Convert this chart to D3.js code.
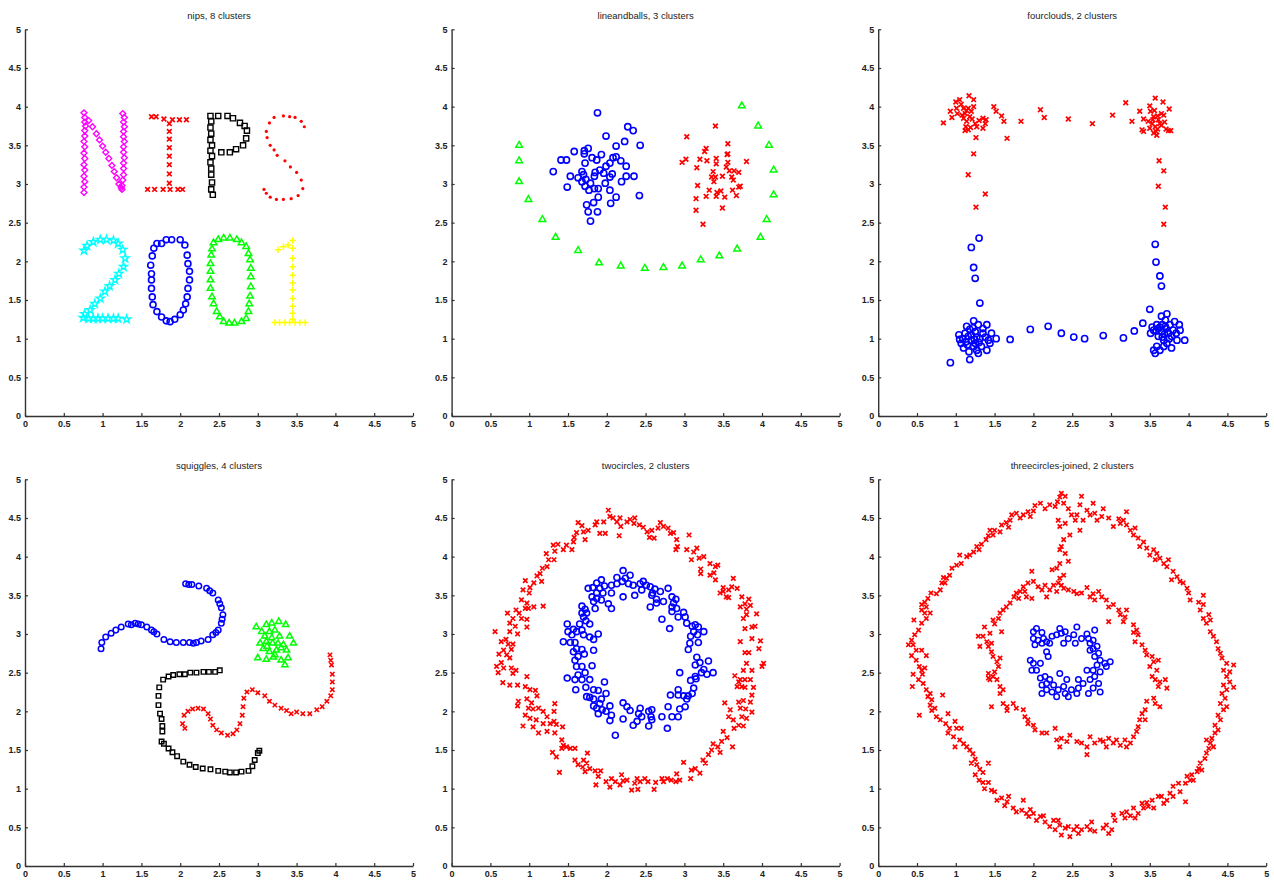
<!DOCTYPE html>
<html>
<head>
<meta charset="utf-8">
<script src="https://cdn.jsdelivr.net/npm/d3@7"></script>
<style>
  body { margin: 0; background: #fff; }
  svg { display: block; }
  text { font-family: "Liberation Sans", Arial, sans-serif; }
</style>
</head>
<body>
<svg id="chart" width="1274" height="880"></svg>
<script>
// ---- tick labels (same on every panel) ----
const tickValues = [0, 0.5, 1, 1.5, 2, 2.5, 3, 3.5, 4, 4.5, 5];
const tickLabels = ["0", "0.5", "1", "1.5", "2", "2.5", "3", "3.5", "4", "4.5", "5"];

const titles = ["nips, 8 clusters", "lineandballs, 3 clusters", "fourclouds, 2 clusters",
                "squiggles, 4 clusters", "twocircles, 2 clusters", "threecircles-joined, 2 clusters"];

// ---- nips ----
const nipsN = [[0.76,3.92],[0.77,3.86],[0.77,3.8],[0.78,3.75],[0.77,3.69],[0.77,3.62],[0.76,3.55],[0.77,3.48],[0.76,3.4],[0.77,3.33],[0.76,3.25],[0.77,3.18],[0.76,3.1],[0.77,3.03],[0.76,2.96],[0.76,2.89],
  [0.82,3.82],[0.87,3.74],[0.92,3.65],[0.96,3.57],[1.0,3.49],[1.04,3.41],[1.08,3.33],[1.12,3.24],[1.15,3.16],[1.18,3.08],[1.21,3.0],[1.24,2.95],
  [1.26,3.91],[1.28,3.86],[1.27,3.8],[1.28,3.74],[1.27,3.68],[1.27,3.61],[1.28,3.55],[1.27,3.48],[1.27,3.41],[1.28,3.34],[1.27,3.27],[1.27,3.2],[1.27,3.12],[1.26,3.05],[1.25,2.98],[1.25,2.93]];
const nipsI = [[1.63,3.87],[1.69,3.87],[1.79,3.84],[1.9,3.83],[1.99,3.83],[2.08,3.83],
  [1.86,3.78],[1.86,3.68],[1.86,3.58],[1.86,3.47],[1.86,3.36],[1.86,3.25],[1.86,3.13],[1.86,3.01],
  [1.58,2.93],[1.67,2.93],[1.78,2.93],[1.87,2.93],[1.97,2.93],[2.03,2.93]];
const nipsP = [[2.39,3.88],[2.4,3.81],[2.39,3.73],[2.4,3.65],[2.39,3.57],[2.41,3.5],[2.39,3.43],[2.41,3.36],[2.39,3.28],[2.4,3.2],[2.4,3.12],[2.41,3.02],[2.4,2.93],[2.42,2.86],
  [2.49,3.88],[2.61,3.88],[2.68,3.85],[2.77,3.79],[2.83,3.75],[2.86,3.69],[2.85,3.59],[2.81,3.5],[2.72,3.45],[2.64,3.41],[2.53,3.41]];
const nipsS = [[3.21,3.86],[3.33,3.88],[3.41,3.87],[3.48,3.86],[3.56,3.81],[3.6,3.74],[3.15,3.79],[3.11,3.68],[3.12,3.6],[3.16,3.5],[3.21,3.44],[3.25,3.37],
  [3.35,3.3],[3.42,3.22],[3.5,3.15],[3.56,3.05],[3.58,2.94],[3.52,2.85],[3.43,2.81],[3.33,2.8],[3.24,2.8],[3.16,2.83],[3.11,2.88],[3.08,2.93]];
const nips2 = [[0.76,2.14],[0.8,2.2],[0.88,2.25],[0.97,2.28],[1.05,2.28],[1.14,2.27],[1.2,2.23],[1.26,2.15],[1.29,2.04],[1.27,1.93],[1.21,1.84],[1.16,1.76],[1.09,1.68],[1.03,1.61],[0.97,1.52],[0.9,1.45],[0.84,1.37],[0.77,1.32],
  [0.75,1.27],[0.82,1.26],[0.88,1.26],[0.94,1.26],[1.0,1.26],[1.07,1.26],[1.14,1.26],[1.2,1.26],[1.31,1.25]];
const nips0a = [[1.76,2.23],[1.82,2.28],[1.89,2.28],[2.0,2.28],[2.06,2.21],[2.09,2.08],[2.1,1.97],[2.12,1.87],[2.12,1.76],[2.1,1.65],[2.09,1.54],[2.07,1.45],[2.04,1.37],[2.0,1.31],
  [1.93,1.25],[1.87,1.22],[1.82,1.23],[1.76,1.28],[1.7,1.35],[1.65,1.44],[1.64,1.54],[1.63,1.65],[1.63,1.76],[1.63,1.84],[1.62,1.95],[1.64,2.07],[1.66,2.17],[1.7,2.23]];
const nips0b = [[2.43,2.24],[2.49,2.28],[2.56,2.3],[2.64,2.3],[2.73,2.28],[2.79,2.24],[2.85,2.19],[2.88,2.1],[2.9,2.02],[2.91,1.91],[2.91,1.8],[2.91,1.67],[2.9,1.55],[2.89,1.45],[2.88,1.35],
  [2.85,1.26],[2.79,1.22],[2.7,1.2],[2.63,1.2],[2.56,1.22],[2.51,1.28],[2.47,1.35],[2.43,1.45],[2.41,1.54],[2.39,1.65],[2.39,1.76],[2.39,1.87],[2.39,1.97],[2.4,2.08],[2.41,2.16]];
const nips1 = [[3.26,2.15],[3.33,2.19],[3.39,2.21],[3.45,2.27],[3.45,2.17],[3.45,2.04],[3.45,1.93],[3.45,1.82],[3.45,1.72],[3.45,1.63],[3.45,1.52],[3.45,1.42],[3.45,1.33],[3.45,1.25],
  [3.22,1.21],[3.28,1.21],[3.35,1.21],[3.41,1.21],[3.48,1.21],[3.54,1.21],[3.61,1.21]];

// ---- lineandballs ----
const labLine = [[0.87,3.5],[0.87,3.3],[0.87,3.03],[0.99,2.8],[1.17,2.54],[1.34,2.31],[1.63,2.14],[1.9,1.98],[2.18,1.94],[2.49,1.91],[2.73,1.92],[2.97,1.94],[3.21,2.02],[3.45,2.07],[3.68,2.16],[3.98,2.31],[4.06,2.54],[4.15,2.86],[4.15,3.18],[4.09,3.5],[3.95,3.75],[3.74,4.01]];
const labBallA = [[1.88,3.92],[2.27,3.74],[2.34,3.69],[1.99,3.62],[2.23,3.55],[2.43,3.5],[2.12,3.49],[1.76,3.46],[1.71,3.43],[1.58,3.42],[1.71,3.39],[1.93,3.38],[1.81,3.34],[2.08,3.34],[2.12,3.35],[1.41,3.31],[1.48,3.31],[1.87,3.31],[2.18,3.3],[1.72,3.27],[2.04,3.27],[1.99,3.23],[2.25,3.23],
  [1.31,3.16],[1.68,3.16],[1.91,3.18],[1.85,3.15],[1.96,3.14],[2.07,3.13],[1.53,3.1],[1.7,3.12],[2.35,3.1],[2.25,3.1],[1.63,3.08],[1.73,3.06],[1.84,3.1],[2.04,3.09],[1.68,3.03],[2.19,3.03],[1.98,3.01],[1.79,3.01],[1.72,2.97],[1.49,2.96],[1.84,2.94],[1.89,2.94],[1.77,2.92],[2.04,2.92],
  [2.42,2.85],[1.89,2.83],[2.12,2.83],[1.83,2.76],[2.05,2.75],[1.74,2.73],[1.76,2.64],[1.88,2.64],[1.79,2.52]];
const labBallB = [[3.03,3.61],[3.4,3.75],[3.56,3.52],[3.28,3.46],[3.26,3.42],[3.41,3.33],[3.55,3.38],[3.56,3.39],[3.02,3.32],[2.97,3.28],[3.2,3.32],[3.29,3.3],[3.41,3.26],[3.56,3.28],[3.8,3.29],[3.54,3.22],[3.16,3.21],[3.37,3.16],[3.58,3.17],[3.64,3.17],[3.7,3.15],
  [3.35,3.09],[3.4,3.09],[3.49,3.1],[3.61,3.09],[3.63,3.05],[3.38,3.03],[3.17,2.98],[3.72,2.97],[3.7,2.96],[3.32,2.92],[3.47,2.91],[3.62,2.92],[3.42,2.89],[3.28,2.84],[3.41,2.84],[3.67,2.85],[3.52,2.83],[3.15,2.81],[3.49,2.69],[3.15,2.66],[3.24,2.48]];

// ---- fourclouds ----
const fcTop = [[0.84,3.79],[0.93,3.94],[0.95,3.86],[1.0,4.06],[1.05,4.09],[1.01,3.98],[1.02,3.91],[1.1,3.98],[1.12,3.91],[1.17,4.14],[1.23,4.09],[1.23,4.0],[1.16,3.98],[1.2,3.94],[1.1,3.85],[1.18,3.87],[1.14,3.81],[1.13,3.74],[1.16,3.7],[1.12,3.69],[1.25,3.78],[1.27,3.74],[1.35,3.85],[1.39,3.83],[1.38,3.78],[1.35,3.72],
  [1.07,4.03],[1.14,3.95],[1.21,3.84],[1.08,3.89],[1.19,3.73],[1.3,3.82],
  [1.26,3.6],[1.23,3.39],[1.16,3.12],[1.38,2.87],[1.26,2.7],
  [1.49,4.0],[1.52,3.94],[1.59,3.88],[1.62,3.81],[1.66,3.59],[1.84,3.81],[2.09,3.96],[2.14,3.86],[2.45,3.84],[2.76,3.78],[3.02,3.89],[3.19,4.05],[3.27,3.81],
  [3.37,3.94],[3.42,3.84],[3.4,3.7],[3.42,3.68],[3.5,4.01],[3.57,4.11],[3.51,3.94],[3.55,3.87],[3.53,3.78],[3.5,3.72],[3.55,3.66],[3.6,3.71],[3.61,3.83],[3.65,3.91],[3.67,4.06],[3.68,3.89],[3.65,3.76],[3.71,3.71],[3.75,3.97],[3.74,3.69],[3.77,3.69],[3.57,3.74],[3.59,3.63],[3.54,3.83],
  [3.58,3.68],[3.63,3.78],[3.48,3.81],[3.6,3.88],[3.69,3.8],[3.56,3.95],
  [3.62,3.3],[3.68,3.17],[3.61,2.97],[3.7,2.7],[3.68,2.48]];
const fcBottom = [[1.3,2.3],[1.2,2.18],[1.23,1.92],[1.25,1.78],[1.31,1.46],
  [0.93,0.69],[1.18,0.73],[1.05,0.99],[1.07,0.94],[1.1,0.88],[1.14,1.16],[1.12,1.07],[1.16,1.03],[1.23,1.23],[1.18,1.12],[1.25,1.09],[1.2,0.98],[1.25,0.94],[1.17,0.83],[1.27,0.85],[1.29,1.18],[1.31,1.0],[1.33,0.9],[1.35,1.07],[1.4,1.18],[1.42,0.98],[1.4,0.85],[1.44,0.94],[1.46,1.07],[1.52,1.0],[1.04,1.05],[1.13,0.96],[1.23,0.9],[1.35,1.13],[1.29,0.81],
  [1.2,1.05],[1.27,1.02],[1.15,0.92],[1.3,0.95],[1.22,1.14],[1.38,1.02],[1.09,1.0],[1.24,0.99],
  [1.7,0.99],[1.96,1.12],[2.19,1.16],[2.36,1.07],[2.52,1.02],[2.66,1.0],[2.9,1.04],[3.16,1.01],[3.3,1.1],[3.41,1.2],
  [3.57,2.22],[3.58,1.99],[3.63,1.81],[3.65,1.68],[3.5,1.38],
  [3.55,0.85],[3.57,0.81],[3.59,0.9],[3.63,0.85],[3.68,0.9],[3.72,0.94],[3.78,1.03],[3.89,1.11],[3.95,0.98],[3.82,1.22],[3.72,1.32],[3.65,1.29],[3.53,1.15],[3.59,1.18],[3.66,1.18],[3.71,1.13],[3.74,1.07],[3.65,1.09],[3.55,1.11],[3.51,1.07],[3.84,1.07],[3.85,0.98],[3.78,0.88],[3.68,0.98],[3.61,1.03],[3.76,1.18],[3.88,1.18],[3.61,1.13],[3.7,1.24],[3.8,1.11],
  [3.69,1.06],[3.63,1.15],[3.75,1.0],[3.7,1.16],[3.58,1.1],[3.66,1.02]];

// ---- squiggles ----
const sqBlue = [[0.98,2.81],[0.99,2.89],[1.04,2.96],[1.11,3.01],[1.17,3.05],[1.24,3.09],[1.33,3.13],[1.42,3.14],[1.5,3.12],[1.57,3.09],[1.63,3.05],[1.7,3.0],[1.79,2.93],[1.87,2.9],[1.95,2.89],[2.04,2.89],[2.12,2.89],[2.21,2.89],[2.27,2.91],[2.36,2.93],
  [2.42,2.99],[2.49,3.05],[2.53,3.14],[2.55,3.25],[2.53,3.34],[2.49,3.44],[2.42,3.53],[2.34,3.59],[2.24,3.62],[2.15,3.64],[2.07,3.65],
  [1.37,3.12],[1.46,3.13],[1.66,3.03],[2.17,2.88],[2.46,3.02],[2.54,3.19],[2.51,3.39],[2.38,3.56],[2.11,3.64]];
const sqGreen = [[2.98,3.09],[3.05,3.03],[3.11,3.12],[3.18,3.14],[3.27,3.16],[3.36,3.12],[3.15,3.03],[3.22,3.05],[3.09,2.97],[3.28,2.97],[3.41,2.97],[3.46,2.88],[3.03,2.88],[3.11,2.9],[3.19,2.88],[3.33,2.86],[3.07,2.81],[3.24,2.79],[3.37,2.79],
  [3.0,2.69],[3.11,2.67],[3.22,2.73],[3.3,2.66],[3.39,2.69],[3.35,2.6],[3.15,2.77],[3.26,2.88],[3.18,2.95],[3.3,2.82],[3.12,2.84],[3.2,2.7]];
const sqBlack = [[2.51,2.53],[2.45,2.51],[2.37,2.51],[2.3,2.51],[2.21,2.5],[2.13,2.5],[2.06,2.48],[1.99,2.48],[1.91,2.47],[1.85,2.45],[1.78,2.41],[1.73,2.31],[1.72,2.2],[1.72,2.08],[1.74,1.97],[1.76,1.9],[1.77,1.81],[1.77,1.74],
  [1.76,1.61],[1.79,1.58],[1.85,1.52],[1.9,1.47],[1.96,1.42],[2.04,1.35],[2.12,1.31],[2.2,1.28],[2.29,1.26],[2.39,1.25],[2.49,1.23],[2.58,1.22],[2.64,1.21],[2.72,1.21],[2.79,1.22],[2.88,1.23],[2.93,1.29],[2.96,1.37],[3.0,1.46],[3.02,1.49]];
const sqRed = [[2.03,1.84],[2.06,1.78],[2.05,1.95],[2.1,2.0],[2.16,2.03],[2.23,2.04],[2.3,2.03],[2.36,1.97],[2.39,1.9],[2.42,1.82],[2.47,1.76],[2.53,1.72],[2.61,1.69],[2.68,1.71],[2.73,1.76],[2.77,1.84],[2.8,1.95],[2.81,2.06],[2.82,2.17],
  [2.86,2.25],[2.93,2.28],[3.0,2.24],[3.09,2.2],[3.15,2.13],[3.22,2.08],[3.3,2.04],[3.37,2.01],[3.43,1.97],[3.5,1.99],[3.58,1.97],[3.67,1.97],[3.76,2.02],[3.83,2.06],[3.89,2.13],[3.94,2.2],[3.96,2.28],[3.96,2.38],[3.96,2.48],[3.95,2.6],[3.94,2.66],[3.93,2.73]];

// ---- twocircles ----
const tcOuter = [[2.02,4.6],[2.04,4.52],[2.08,4.5],[1.96,4.45],[1.87,4.45],[1.85,4.41],[1.91,4.3],[1.98,4.3],[2.17,4.5],[2.13,4.45],[2.18,4.39],[2.16,4.27],[2.26,4.45],[2.3,4.48],[2.36,4.5],[2.35,4.43],[2.42,4.41],[2.47,4.38],[2.52,4.32],[2.55,4.25],[2.61,4.24],[2.58,4.34],
  [2.69,4.44],[2.66,4.37],[2.73,4.39],[2.79,4.37],[2.82,4.3],[2.86,4.31],[2.9,4.22],[2.91,4.13],[2.89,4.09],[3.06,4.28],[3.03,4.09],[3.12,4.06],[3.16,4.11],[3.19,3.98],[3.25,4.0],[3.09,3.96],[3.33,3.91],[3.4,3.87],[3.43,3.89],[3.4,3.7],[3.33,3.76],[3.21,3.78],[3.21,3.84],[3.38,3.79],
  [1.76,4.34],[1.7,4.32],[1.68,4.4],[1.63,4.44],[1.72,4.22],[1.61,4.31],[1.58,4.25],[1.57,4.19],[1.55,4.09],[1.48,4.15],[1.44,4.09],[1.37,4.16],[1.31,4.15],[1.33,4.07],[1.32,3.96],[1.25,3.96],[1.22,4.04],[1.17,3.85],[1.23,3.87],[1.14,3.78],[1.1,3.75],[1.16,3.68],[1.06,3.66],[1.01,3.6],
  [0.95,3.69],[1.0,3.53],[0.92,3.57],[0.9,3.44],[0.97,3.4],[0.99,3.33],[0.95,3.33],[1.06,3.35],[1.18,3.36],[0.87,3.27],[0.83,3.31],[0.9,3.2],[0.97,3.19],[0.79,3.2],[0.75,3.14],[0.82,3.1],[0.97,3.09],[0.85,3.0],[0.75,3.03],[0.72,3.27],
  [0.56,3.03],[0.64,2.9],[0.7,2.93],[0.73,2.87],[0.79,2.87],[0.77,2.8],[0.67,2.79],[0.71,2.73],[0.61,2.74],[0.75,2.69],[0.64,2.63],[0.58,2.58],[0.67,2.56],[0.77,2.56],[0.83,2.53],[0.6,2.5],[0.79,2.49],[0.66,2.37],[0.75,2.34],[0.85,2.34],[0.97,2.45],[0.95,2.32],[1.01,2.28],[1.08,2.27],[1.1,2.2],
  [0.97,2.16],[1.03,2.11],[0.86,2.13],[0.85,2.07],[0.99,2.04],[1.05,2.03],[1.12,2.04],[1.18,2.0],[0.95,1.95],[1.01,1.91],[1.09,1.89],[0.92,1.81],[1.05,1.8],[1.12,1.72],[1.23,1.93],[1.18,1.84],[1.27,1.84],[1.32,1.87],[1.33,2.1],[1.32,2.0],[1.35,1.83],[1.43,1.8],[1.23,1.74],[1.33,1.72],
  [1.42,1.63],[1.44,1.56],[1.48,1.54],[1.42,1.52],[1.53,1.52],[1.3,1.47],[1.35,1.41],[1.59,1.52],[1.59,1.37],[1.63,1.31],[1.7,1.37],[1.69,1.28],[1.74,1.33],[1.75,1.46],[1.39,1.21],[1.72,1.22],[1.78,1.26],[1.85,1.23],[1.92,1.23],[1.89,1.16],[1.86,1.05],[1.99,1.09],[2.04,1.02],[2.06,1.13],[2.11,1.09],
  [2.19,1.18],[2.21,1.1],[2.17,1.05],[2.26,1.11],[2.32,0.98],[2.36,1.07],[2.39,1.13],[2.43,1.09],[2.4,0.99],[2.49,1.13],[2.53,1.09],[2.61,0.99],[2.63,1.08],[2.71,1.13],[2.73,1.09],[2.78,1.13],[2.83,1.11],[2.9,1.19],[2.94,1.11],[2.89,1.09],[3.08,1.13],[3.09,1.24],[3.14,1.26],[2.99,1.34],[3.2,1.2],
  [3.24,1.37],[3.27,1.33],[3.31,1.44],[3.35,1.5],[3.37,1.58],[3.43,1.54],[3.46,1.47],[3.48,1.61],[3.5,1.74],[3.55,1.66],[3.62,1.54],[3.57,1.93],[3.59,2.02],[3.63,1.89],[3.64,1.78],[3.7,1.82],[3.76,1.81],[3.74,1.93],[3.8,1.91],[3.87,1.99],[3.79,2.03],[3.72,2.04],[3.7,2.12],[3.76,2.14],[3.85,2.12],[3.87,2.21],[3.52,2.11],
  [3.68,2.32],[3.74,2.32],[3.78,2.31],[3.89,2.31],[3.7,2.38],[3.72,2.41],[3.78,2.41],[3.85,2.41],[3.65,2.46],[3.76,2.53],[3.87,2.53],[3.8,2.62],[4.0,2.58],[4.02,2.62],[3.78,2.76],[3.83,2.76],[3.72,2.9],[3.96,2.81],[3.98,2.91],[3.87,2.94],[3.78,3.07],[3.87,3.09],[3.91,3.1],[3.93,3.26],[3.76,3.2],[3.8,3.25],[3.72,3.35],[3.8,3.32],[3.78,3.39],[3.85,3.37],[3.83,3.45],[3.74,3.48],
  [3.63,3.72],[3.61,3.61],[3.68,3.59],[3.57,3.57],[3.5,3.55],[3.46,3.53],[3.54,3.48],[3.5,3.6],[3.57,3.47]];
const tcInner = [[2.21,3.82],[2.3,3.76],[2.13,3.73],[2.24,3.72],[2.2,3.68],[1.93,3.7],[1.87,3.66],[1.76,3.59],[1.82,3.6],[1.91,3.59],[1.97,3.62],[2.06,3.63],[2.13,3.65],[2.28,3.65],[2.34,3.63],[2.43,3.65],[2.47,3.68],[2.51,3.63],[2.56,3.61],[2.62,3.58],[2.59,3.53],[2.69,3.55],[2.79,3.59],
  [2.45,3.57],[2.36,3.5],[2.21,3.48],[2.06,3.53],[1.95,3.53],[1.87,3.53],[1.81,3.48],[1.87,3.46],[1.93,3.44],[1.83,3.42],[2.02,3.39],[2.06,3.33],[1.85,3.33],[1.72,3.32],[1.68,3.36],[1.74,3.27],[1.7,3.22],[1.68,3.27],[1.78,3.13],[1.73,3.17],[1.65,3.13],
  [2.58,3.5],[2.64,3.45],[2.64,3.4],[2.56,3.35],[2.73,3.42],[2.84,3.48],[2.89,3.45],[2.86,3.4],[2.84,3.35],[2.9,3.33],[2.84,3.29],[2.99,3.28],[3.01,3.22],[2.92,3.22],[2.71,3.19],[2.81,3.07],[3.03,3.14],[3.1,3.1],[3.14,3.12],[3.18,3.09],[3.12,3.03],[3.17,2.99],[3.25,3.03],[3.08,2.97],
  [3.07,2.88],[3.18,2.89],[3.05,2.8],[3.16,2.7],[3.2,2.63],[3.31,2.65],[3.14,2.6],[3.25,2.54],[3.37,2.5],[3.29,2.48],[3.22,2.5],[3.14,2.45],[3.08,2.4],[3.15,2.42],[2.94,2.5],[3.12,2.3],[3.1,2.23],[3.05,2.2],[2.99,2.2],[2.92,2.28],[2.92,2.21],[3.03,2.16],[3.01,2.06],[2.94,2.03],
  [2.82,2.21],[2.79,2.06],[2.84,1.93],[2.92,1.93],[2.71,1.93],[2.78,1.78],[2.58,2.02],[2.54,2.0],[2.57,1.93],[2.54,1.81],[2.58,1.89],[2.43,2.04],[2.41,1.97],[2.45,1.93],[2.39,1.87],[2.34,1.82],[2.3,2.01],[2.26,2.06],[2.21,2.11],[2.21,1.9],[2.06,1.95],[2.04,1.88],[2.11,1.69],
  [1.99,2.0],[2.04,2.07],[1.91,2.1],[1.94,2.02],[1.87,2.04],[1.83,2.07],[1.89,1.97],[1.93,2.16],[1.83,2.16],[1.78,2.18],[1.99,2.23],[1.97,2.38],[1.89,2.27],[1.83,2.28],[1.74,2.19],[1.73,2.31],[1.78,2.41],[1.68,2.41],[1.59,2.41],[1.49,2.43],[1.6,2.28],[1.63,2.47],[1.72,2.5],
  [1.61,2.58],[1.68,2.58],[1.81,2.59],[1.59,2.66],[1.63,2.71],[1.71,2.74],[1.83,2.79],[1.57,2.77],[1.61,2.81],[1.68,2.8],[1.44,2.9],[1.53,2.89],[1.59,2.89],[1.7,2.99],[1.78,2.96],[1.89,3.0],[1.83,2.93],[1.5,3.03],[1.57,3.06],[1.61,3.03],[1.68,3.05],[1.49,3.13],[1.55,2.99]];

// ---- threecircles-joined ----
const t3Red = [[2.36,4.82],[2.34,4.77],[2.41,4.78],[2.31,4.71],[2.28,4.65],[2.39,4.69],[2.45,4.62],[2.21,4.67],[2.15,4.62],[2.09,4.69],[2.02,4.66],[2.0,4.59],[1.93,4.58],[1.96,4.52],[1.87,4.54],[1.83,4.5],[1.78,4.56],[1.72,4.54],[1.7,4.47],[1.65,4.44],[1.68,4.38],[1.59,4.41],[1.57,4.32],[1.5,4.34],[1.48,4.28],[1.44,4.34],[1.42,4.27],
  [1.39,4.22],[1.33,4.16],[1.27,4.13],[1.3,4.09],[1.23,4.06],[1.18,4.02],[1.14,4.0],[1.05,4.02],[1.07,3.91],[1.01,3.89],[0.95,3.85],[0.92,3.76],[0.88,3.72],[0.84,3.73],[0.82,3.66],[0.86,3.66],[0.8,3.57],[0.75,3.52],[0.68,3.53],[0.64,3.46],[0.6,3.41],[0.56,3.38],[0.62,3.35],[0.56,3.31],[0.6,3.27],[0.67,3.27],[0.62,3.2],
  [0.56,3.14],[0.46,3.18],[0.52,3.05],[0.47,2.99],[0.43,2.92],[0.39,2.86],[0.45,2.86],[0.49,2.79],[0.56,2.79],[0.43,2.72],[0.62,2.72],[0.49,2.66],[0.53,2.58],[0.56,2.53],[0.6,2.56],[0.45,2.48],[0.57,2.48],[0.52,2.41],[0.58,2.36],[0.44,2.32],[0.62,2.28],[0.67,2.23],[0.64,2.19],[0.69,2.15],[0.83,2.21],
  [0.67,2.08],[0.73,2.04],[0.69,2.01],[0.53,1.95],[0.75,1.93],[0.8,1.89],[0.9,1.97],[0.87,1.84],[0.92,1.78],[0.99,1.87],[1.01,1.78],[0.9,1.72],[0.97,1.67],[1.05,1.63],[1.1,1.58],[0.99,1.54],[1.14,1.54],[1.18,1.5],[1.07,1.78],[1.22,1.45],[1.25,1.38],[1.2,1.33],[1.27,1.31],[1.31,1.25],[1.25,1.18],[1.35,1.21],
  [1.3,1.11],[1.42,1.33],[1.35,1.08],[1.42,1.08],[1.46,0.98],[1.37,1.0],[1.5,0.96],[1.53,0.85],[1.59,0.88],[1.66,0.83],[1.63,0.78],[1.68,0.9],[1.74,0.75],[1.78,0.7],[1.87,0.85],[1.85,0.72],[1.91,0.68],[1.96,0.73],[1.94,0.64],[2.0,0.68],[2.04,0.59],[2.09,0.64],[2.13,0.65],[2.15,0.57],
  [2.21,0.51],[2.26,0.59],[2.28,0.47],[2.32,0.59],[2.34,0.53],[2.36,0.4],[2.41,0.49],[2.45,0.51],[2.47,0.38],[2.52,0.47],[2.56,0.51],[2.58,0.42],[2.62,0.47],[2.69,0.51],[2.73,0.47],[2.75,0.57],[2.79,0.45],[2.9,0.49],[2.94,0.53],[2.97,0.42],[3.01,0.47],[3.05,0.59],[3.03,0.66],
  [3.14,0.68],[3.18,0.62],[3.2,0.7],[3.25,0.65],[3.29,0.75],[3.31,0.62],[3.35,0.68],[3.4,0.81],[3.42,0.75],[3.46,0.82],[3.48,0.77],[3.55,0.75],[3.53,0.85],[3.61,0.9],[3.65,0.9],[3.68,0.81],[3.72,0.85],[3.76,0.94],[3.8,0.9],[3.8,1.03],[3.87,1.07],[3.89,0.96],[3.96,0.83],[3.96,1.07],[3.98,1.16],
  [4.02,1.11],[4.04,1.18],[4.06,1.11],[4.11,1.22],[4.13,1.26],[4.15,1.33],[4.17,1.24],[4.21,1.39],[4.23,1.46],[4.26,1.52],[4.28,1.59],[4.32,1.54],[4.23,1.63],[4.3,1.65],[4.34,1.72],[4.38,1.76],[4.34,1.82],[4.41,1.89],[4.38,1.95],[4.45,2.02],[4.49,2.06],[4.41,2.1],[4.47,2.17],[4.43,2.23],[4.49,2.28],
  [4.45,2.34],[4.58,2.31],[4.53,2.38],[4.49,2.45],[4.53,2.51],[4.45,2.53],[4.58,2.6],[4.49,2.62],[4.43,2.69],[4.41,2.75],[4.38,2.81],[4.36,2.9],[4.32,2.97],[4.28,3.03],[4.23,3.14],[4.28,3.18],[4.19,3.2],[4.26,3.25],[4.15,3.31],[4.19,3.38],[4.13,3.41],[4.19,3.5],[4.02,3.44],
  [4.0,3.53],[3.98,3.59],[3.93,3.66],[3.89,3.68],[3.85,3.74],[3.8,3.81],[3.78,3.7],[3.72,3.87],[3.74,3.96],[3.68,3.91],[3.63,3.98],[3.59,4.04],[3.57,3.96],[3.55,4.09],[3.5,4.02],[3.46,4.11],[3.42,4.19],[3.37,4.13],[3.35,4.24],[3.29,4.28],[3.31,4.37],[3.25,4.34],[3.2,4.41],[3.2,4.58],
  [3.16,4.47],[3.12,4.43],[3.1,4.49],[3.03,4.39],[2.97,4.5],[2.9,4.62],[2.88,4.52],[2.82,4.47],[2.77,4.69],[2.79,4.56],[2.73,4.54],[2.69,4.6],[2.64,4.47],[2.62,4.78],[2.6,4.67],[2.56,4.54],[2.54,4.47],[2.6,4.34],[2.49,4.54],
  [2.32,4.47],[2.34,4.39],[2.41,4.43],[2.47,4.28],[2.39,4.22],[2.36,4.13],[2.34,4.09],[2.41,4.04],[2.45,3.94],[2.34,3.91],[2.3,3.85],[2.24,3.83],[2.39,3.76],[2.34,3.72],[2.32,3.66],[2.36,3.63],
  [1.98,3.81],[2.0,3.68],[1.93,3.66],[1.87,3.61],[1.89,3.55],[1.83,3.55],[1.78,3.53],[1.75,3.48],[1.81,3.46],[1.91,3.48],[1.98,3.46],[2.06,3.61],[2.11,3.57],[2.15,3.63],[2.17,3.48],[2.21,3.57],[2.26,3.63],[2.3,3.55],[2.39,3.59],[2.45,3.57],[2.52,3.55],[2.56,3.52],[2.62,3.53],[2.69,3.6],
  [2.73,3.48],[2.77,3.52],[2.84,3.55],[2.79,3.44],[2.88,3.48],[2.94,3.44],[2.97,3.35],[3.03,3.38],[3.1,3.31],[3.12,3.25],[3.18,3.22],[3.16,3.16],[2.97,3.16],[3.2,3.31],[3.29,3.12],[3.33,3.05],[3.29,3.02],[3.35,2.99],[3.31,2.9],[3.4,2.86],[3.44,2.79],[3.46,2.73],[3.53,2.71],[3.55,2.64],
  [3.61,2.66],[3.5,2.58],[3.59,2.53],[3.53,2.45],[3.57,2.41],[3.63,2.38],[3.7,2.41],[3.72,2.3],[3.61,2.32],[3.55,2.17],[3.57,2.1],[3.63,2.06],[3.46,2.13],[3.44,2.02],[3.4,1.97],[3.37,1.89],[3.44,1.89],[3.35,1.8],[3.33,1.74],[3.29,1.67],[3.25,1.59],[3.18,1.63],[3.2,1.54],[3.12,1.56],
  [3.07,1.63],[3.03,1.59],[2.97,1.65],[2.94,1.54],[2.9,1.61],[2.86,1.63],[2.79,1.59],[2.73,1.67],[2.69,1.54],[2.69,1.44],[2.62,1.59],[2.56,1.61],[2.47,1.69],[2.43,1.61],[2.36,1.65],[2.34,1.54],[2.3,1.63],[2.28,1.78],[2.17,1.72],[2.11,1.72],[2.02,1.76],[2.0,1.82],[1.93,1.84],[1.89,1.93],
  [1.93,1.89],[1.87,2.02],[1.78,2.04],[1.74,2.1],[1.66,2.06],[1.61,2.1],[1.66,2.01],[1.46,2.06],[1.57,2.23],[1.61,2.28],[1.57,2.32],[1.53,2.41],[1.48,2.45],[1.44,2.41],[1.42,2.49],[1.5,2.51],[1.55,2.58],[1.53,2.64],[1.57,2.69],[1.48,2.71],[1.46,2.77],[1.42,2.84],[1.46,2.88],[1.4,2.9],
  [1.35,2.97],[1.44,3.01],[1.37,3.09],[1.31,2.84],[1.5,3.13],[1.48,3.18],[1.55,3.2],[1.57,3.27],[1.61,3.31],[1.65,3.35],[1.7,3.4],[1.59,3.03],[1.29,2.97],[1.42,2.43]];
const t3Blue = [[2.0,3.03],[2.04,3.07],[2.11,3.02],[2.0,2.94],[2.06,2.92],[2.13,2.94],[2.02,2.86],[2.11,2.88],[2.17,2.9],[2.24,2.97],[2.21,2.88],[2.3,2.99],[2.34,3.07],[2.36,3.01],[2.41,3.03],[2.39,2.88],[2.45,2.94],[2.52,2.99],[2.54,2.88],[2.56,3.09],[2.62,2.94],[2.69,3.0],[2.71,2.94],[2.73,2.88],
  [2.77,2.92],[2.77,2.81],[2.82,2.84],[2.84,2.75],[2.79,2.71],[2.86,2.66],[2.82,2.6],[2.92,2.62],[2.99,2.64],[2.94,2.58],[2.77,2.53],[2.86,2.51],[2.79,2.45],[2.73,2.41],[2.84,2.36],[2.77,2.3],[2.86,2.25],[2.71,2.23],[2.64,2.36],[2.58,2.3],[2.56,2.23],[2.49,2.28],[2.45,2.19],[2.41,2.23],
  [2.39,2.32],[2.32,2.28],[2.3,2.19],[2.24,2.25],[2.17,2.28],[2.11,2.23],[2.11,2.34],[2.17,2.36],[2.21,2.41],[2.26,2.34],[2.15,2.45],[2.09,2.43],[2.04,2.53],[1.98,2.53],[2.0,2.62],[2.09,2.62],[1.96,2.66],[2.19,2.71],[2.17,2.77],[2.34,2.49],[2.69,2.53],[2.58,2.41],[2.73,2.79],[2.79,3.05],[2.43,2.41]];

// ---- drawing ----
const svg = d3.select("#chart");
const colLeft = [25, 451.6, 878.2];
const rowTop = [29.3, 479.3];
const plotW = 388, plotH = 386.7;

const sym = (type, size) => d3.symbol().type(type).size(size)();

const panels = [
  [{ pts: nipsN, type: d3.symbolDiamond2, size: 22, color: "#ff00ff", sw: 1.4 },
   { pts: nipsI, type: d3.symbolX, size: 16, color: "#ff0000", sw: 1.7 },
   { pts: nipsP, type: d3.symbolSquare2, size: 34, color: "#000000", sw: 1.4 },
   { pts: nipsS, dot: true, color: "#ff0000" },
   { pts: nips2, type: d3.symbolStar, size: 20, color: "#00ffff", sw: 1.4 },
   { pts: nips0a, type: d3.symbolCircle, size: 28, color: "#0000ff", sw: 1.6 },
   { pts: nips0b, type: d3.symbolTriangle2, size: 30, color: "#00ff00", sw: 1.5 },
   { pts: nips1, type: d3.symbolPlus, size: 16, color: "#ffff00", sw: 1.5 }],
  [{ pts: labBallA, type: d3.symbolCircle, size: 30, color: "#0000ff", sw: 1.6 },
   { pts: labBallB, type: d3.symbolX, size: 16, color: "#ff0000", sw: 1.7 },
   { pts: labLine, type: d3.symbolTriangle2, size: 32, color: "#00ff00", sw: 1.5 }],
  [{ pts: fcBottom, type: d3.symbolCircle, size: 30, color: "#0000ff", sw: 1.6 },
   { pts: fcTop, type: d3.symbolX, size: 16, color: "#ff0000", sw: 1.7 }],
  [{ pts: sqBlue, type: d3.symbolCircle, size: 24, color: "#0000ff", sw: 1.5 },
   { pts: sqRed, type: d3.symbolX, size: 14, color: "#ff0000", sw: 1.6 },
   { pts: sqGreen, type: d3.symbolTriangle2, size: 28, color: "#00ff00", sw: 1.5 },
   { pts: sqBlack, type: d3.symbolSquare2, size: 26, color: "#000000", sw: 1.4 }],
  [{ pts: tcInner, type: d3.symbolCircle, size: 28, color: "#0000ff", sw: 1.6 },
   { pts: tcOuter, type: d3.symbolX, size: 15, color: "#ff0000", sw: 1.7 }],
  [{ pts: t3Blue, type: d3.symbolCircle, size: 24, color: "#0000ff", sw: 1.5 },
   { pts: t3Red, type: d3.symbolX, size: 14, color: "#ff0000", sw: 1.7 }]
];

panels.forEach((series, i) => {
  const left = colLeft[i % 3], top = rowTop[Math.floor(i / 3)];
  const x = d3.scaleLinear().domain([0, 5]).range([left, left + plotW]);
  const y = d3.scaleLinear().domain([0, 5]).range([top + plotH, top]);
  const g = svg.append("g");

  g.append("text")
    .attr("x", left + plotW / 2)
    .attr("y", top - 10)
    .attr("text-anchor", "middle")
    .attr("font-size", 9.5)
    .attr("fill", "#222")
    .text(titles[i]);

  const fmt = (d) => tickLabels[tickValues.indexOf(d)];
  const ax = g.append("g")
    .attr("transform", `translate(0,${top + plotH})`)
    .call(d3.axisBottom(x).tickValues(tickValues).tickFormat(fmt).tickSizeInner(-3).tickSizeOuter(0).tickPadding(5));
  const ay = g.append("g")
    .attr("transform", `translate(${left},0)`)
    .call(d3.axisLeft(y).tickValues(tickValues).tickFormat(fmt).tickSizeInner(-3).tickSizeOuter(0).tickPadding(4));
  [ax, ay].forEach((a) => {
    a.select(".domain").attr("stroke", "#333").attr("stroke-width", 1.4);
    a.selectAll(".tick line").attr("stroke", "#333").attr("stroke-width", 1.2);
    a.selectAll(".tick text").attr("font-size", 9).attr("font-weight", "bold").attr("fill", "#222")
      .attr("font-family", "'Liberation Sans', Arial, sans-serif");
  });

  series.forEach((s) => {
    const layer = g.append("g");
    if (s.dot) {
      layer.selectAll("circle").data(s.pts).join("circle")
        .attr("cx", (d) => x(d[0])).attr("cy", (d) => y(d[1]))
        .attr("r", 1.6).attr("fill", s.color);
    } else {
      const path = sym(s.type, s.size);
      layer.selectAll("path").data(s.pts).join("path")
        .attr("transform", (d) => `translate(${x(d[0])},${y(d[1])})`)
        .attr("d", path)
        .attr("fill", "none")
        .attr("stroke", s.color)
        .attr("stroke-width", s.sw);
    }
  });
});
</script>
</body>
</html>
